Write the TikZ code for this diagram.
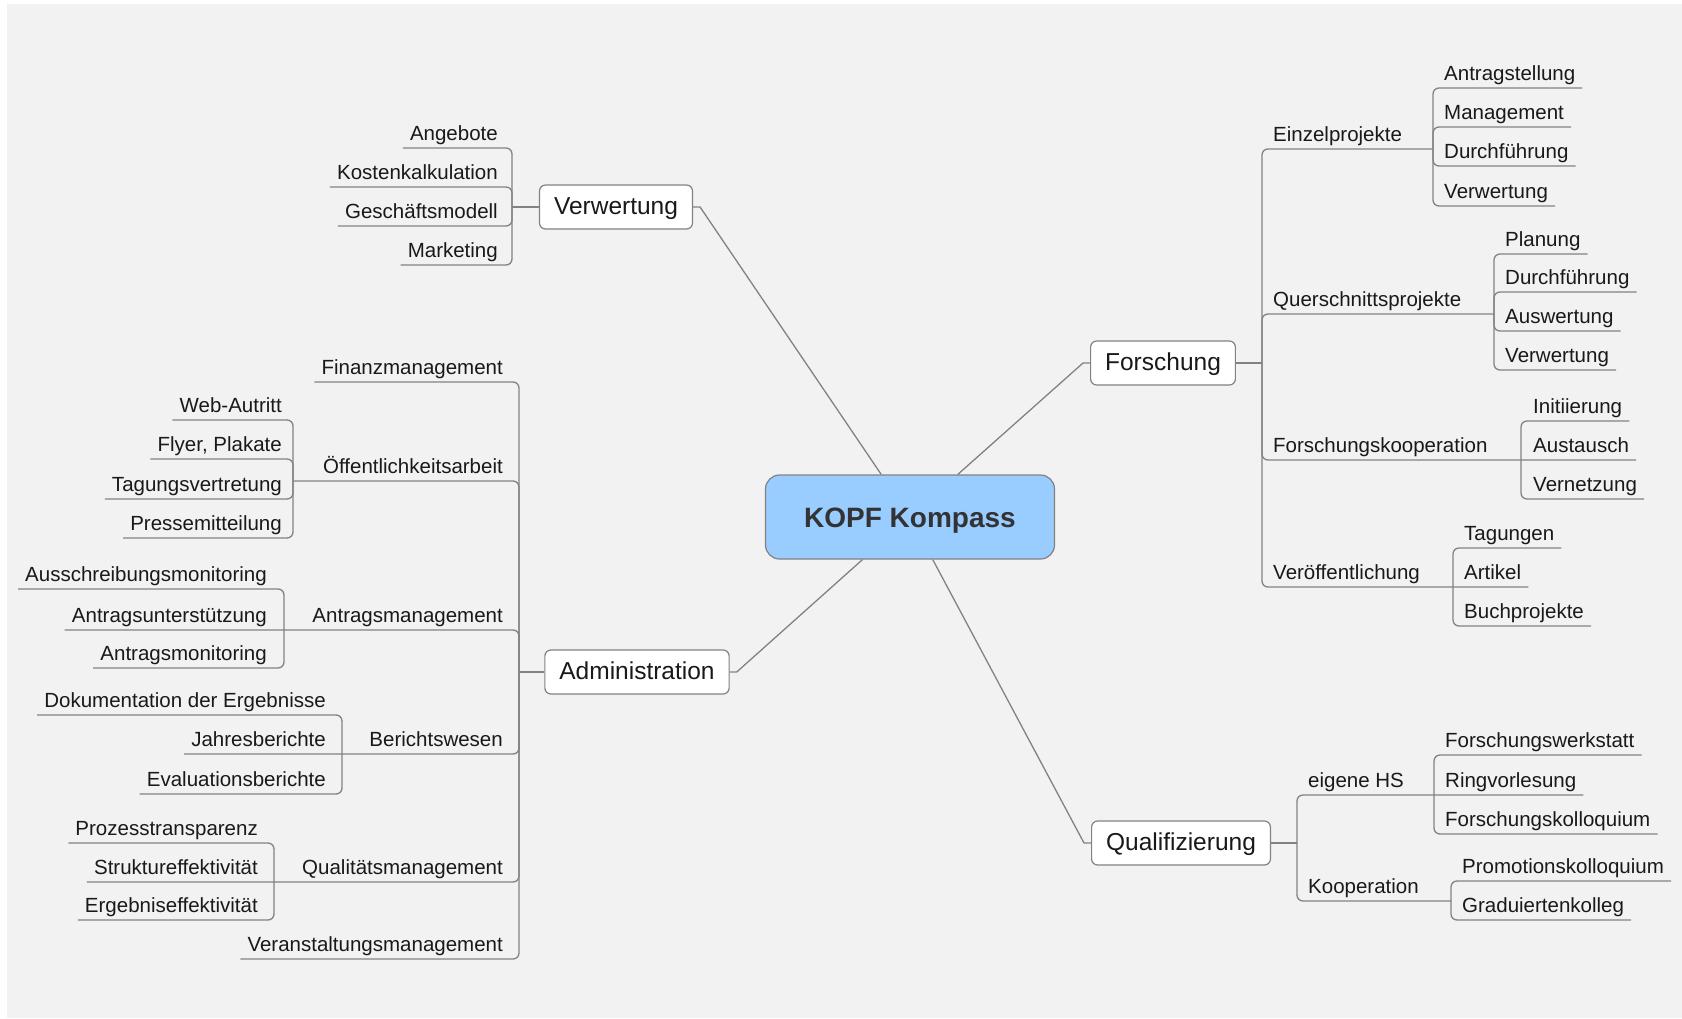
\documentclass[tikz,border=0pt]{standalone}
\usepackage{fontspec}
\setmainfont{Liberation Sans}
\definecolor{bgc}{RGB}{242,242,242}
\definecolor{linec}{RGB}{130,130,130}
\definecolor{kopfc}{RGB}{153,204,255}
\definecolor{txtc}{RGB}{25,25,25}
\tikzset{
  conn/.style={draw=linec, line width=1.3pt, rounded corners=6pt},
  mainconn/.style={draw=linec, line width=1.3pt},
  leaf/.style={font=\fontsize{20.5pt}{24pt}\selectfont, text=txtc, inner xsep=7pt, inner ysep=2pt, text height=15pt, text depth=5pt},
  mainbox/.style={draw=linec, fill=white, line width=1.2pt, rounded corners=6pt, font=\fontsize{24.5pt}{28pt}\selectfont, text=txtc, inner xsep=14.5pt, inner ysep=0pt, minimum height=44pt, text height=18pt, text depth=3pt},
  kopfbox/.style={draw=linec, fill=kopfc, line width=1.2pt, rounded corners=14pt, minimum width=289pt, minimum height=84pt, font=\bfseries\fontsize{28pt}{32pt}\selectfont, text=black!80, text height=20pt, text depth=0pt}
}
% right side: leaf, mid, mid with a leaf on its own line
\newcommand\rleaf[5]{\node[leaf,anchor=south west] (#1) at (#2,#3) {#4}; \draw[conn] (#1.south east) -| (#5);}
\newcommand\rmid[6]{\node[leaf,anchor=south west] (#1) at (#2,#3) {#4}; \coordinate (#1bar) at (#5,#3); \draw[conn] (#1bar) -- (#1.south east) -| (#6);}
\newcommand\rmidm[9]{\node[leaf,anchor=south west] (#1) at (#2,#3) {#4}; \coordinate (#1bar) at (#5,#3);
  \node[leaf,anchor=south west] (#6) at (#7,#3) {#8}; \draw[conn] (#6.south east) -- (#1.south east) -| (#9);}
% left side
\newcommand\lleaf[5]{\node[leaf,anchor=south east] (#1) at (#2,#3) {#4}; \draw[conn] (#1.south west) -| (#5);}
\newcommand\lmid[6]{\node[leaf,anchor=south east] (#1) at (#2,#3) {#4}; \coordinate (#1bar) at (#5,#3); \draw[conn] (#1bar) -- (#1.south west) -| (#6);}
\newcommand\lmidm[9]{\node[leaf,anchor=south east] (#1) at (#2,#3) {#4}; \coordinate (#1bar) at (#5,#3);
  \node[leaf,anchor=south east] (#6) at (#7,#3) {#8}; \draw[conn] (#6.south west) -- (#1.south west) -| (#9);}
\begin{document}
\begin{tikzpicture}[x=1pt,y=-1pt]
\useasboundingbox (0,0) rectangle (1682,1018);
\fill[white] (0,0) rectangle (1682,1018);
\fill[bgc] (7,4) rectangle (1682,1018);

% central and main nodes
\node[kopfbox] (kopf) at (910,517) {KOPF Kompass};
\node[mainbox] (verw) at (616,207) {Verwertung};
\node[mainbox] (fors) at (1163,363) {Forschung};
\node[mainbox] (adm) at (637,672) {Administration};
\node[mainbox] (qual) at (1181,843) {Qualifizierung};

\draw[mainconn] (verw.east) -- ++(7,0) -- (kopf);
\draw[mainconn] (fors.west) -- ++(-7,0) -- (kopf);
\draw[mainconn] (adm.east) -- ++(7,0) -- (kopf);
\draw[mainconn] (qual.west) -- ++(-7,0) -- (kopf);

% Verwertung
\coordinate (vbar) at (512,207);
\draw[mainconn] (verw.west) -- (vbar);
\lleaf{v1}{505}{148}{Angebote}{vbar}
\lleaf{v2}{505}{187}{Kostenkalkulation}{vbar}
\lleaf{v3}{505}{226}{Geschäftsmodell}{vbar}
\lleaf{v4}{505}{265}{Marketing}{vbar}

% Forschung
\coordinate (fbar) at (1262,363);
\draw[mainconn] (fors.east) -- (fbar);
\rmid{f1}{1266}{149}{Einzelprojekte}{1433}{fbar}
\rleaf{f11}{1437}{88}{Antragstellung}{f1bar}
\rleaf{f12}{1437}{127}{Management}{f1bar}
\rleaf{f13}{1437}{166}{Durchführung}{f1bar}
\rleaf{f14}{1437}{206}{Verwertung}{f1bar}
\rmid{f2}{1266}{314}{Querschnittsprojekte}{1494}{fbar}
\rleaf{f21}{1498}{254}{Planung}{f2bar}
\rleaf{f22}{1498}{292}{Durchführung}{f2bar}
\rleaf{f23}{1498}{331}{Auswertung}{f2bar}
\rleaf{f24}{1498}{370}{Verwertung}{f2bar}
\rmidm{f3}{1266}{460}{Forschungskooperation}{1521}{f32}{1526}{Austausch}{fbar}
\rleaf{f31}{1526}{421}{Initiierung}{f3bar}
\rleaf{f33}{1526}{499}{Vernetzung}{f3bar}
\rmidm{f4}{1266}{587}{Veröffentlichung}{1453}{f42}{1457}{Artikel}{fbar}
\rleaf{f41}{1457}{548}{Tagungen}{f4bar}
\rleaf{f43}{1457}{626}{Buchprojekte}{f4bar}

% Qualifizierung
\coordinate (qbar) at (1297,843);
\draw[mainconn] (qual.east) -- (qbar);
\rmidm{q1}{1301}{795}{eigene HS}{1434}{q12}{1438}{Ringvorlesung}{qbar}
\rleaf{q11}{1438}{755}{Forschungswerkstatt}{q1bar}
\rleaf{q13}{1438}{834}{Forschungskolloquium}{q1bar}
\rmid{q2}{1301}{901}{Kooperation}{1451}{qbar}
\rleaf{q21}{1455}{881}{Promotionskolloquium}{q2bar}
\rleaf{q22}{1455}{920}{Graduiertenkolleg}{q2bar}

% Administration
\coordinate (abar) at (519,672);
\draw[mainconn] (adm.west) -- (abar);
\lleaf{a1}{510}{382}{Finanzmanagement}{abar}
\lmid{a2}{510}{481}{Öffentlichkeitsarbeit}{293}{abar}
\lleaf{a21}{289}{420}{Web-Autritt}{a2bar}
\lleaf{a22}{289}{459}{Flyer, Plakate}{a2bar}
\lleaf{a23}{289}{499}{Tagungsvertretung}{a2bar}
\lleaf{a24}{289}{538}{Pressemitteilung}{a2bar}
\lmidm{a3}{510}{630}{Antragsmanagement}{284}{a32}{274}{Antragsunterstützung}{abar}
\lleaf{a31}{274}{589}{Ausschreibungsmonitoring}{a3bar}
\lleaf{a33}{274}{668}{Antragsmonitoring}{a3bar}
\lmidm{a4}{510}{754}{Berichtswesen}{342}{a42}{333}{Jahresberichte}{abar}
\lleaf{a41}{333}{715}{Dokumentation der Ergebnisse}{a4bar}
\lleaf{a43}{333}{794}{Evaluationsberichte}{a4bar}
\lmidm{a5}{510}{882}{Qualitätsmanagement}{274}{a52}{265}{Struktureffektivität}{abar}
\lleaf{a51}{265}{843}{Prozesstransparenz}{a5bar}
\lleaf{a53}{265}{920}{Ergebniseffektivität}{a5bar}
\lleaf{a6}{510}{959}{Veranstaltungsmanagement}{abar}
\end{tikzpicture}
\end{document}
